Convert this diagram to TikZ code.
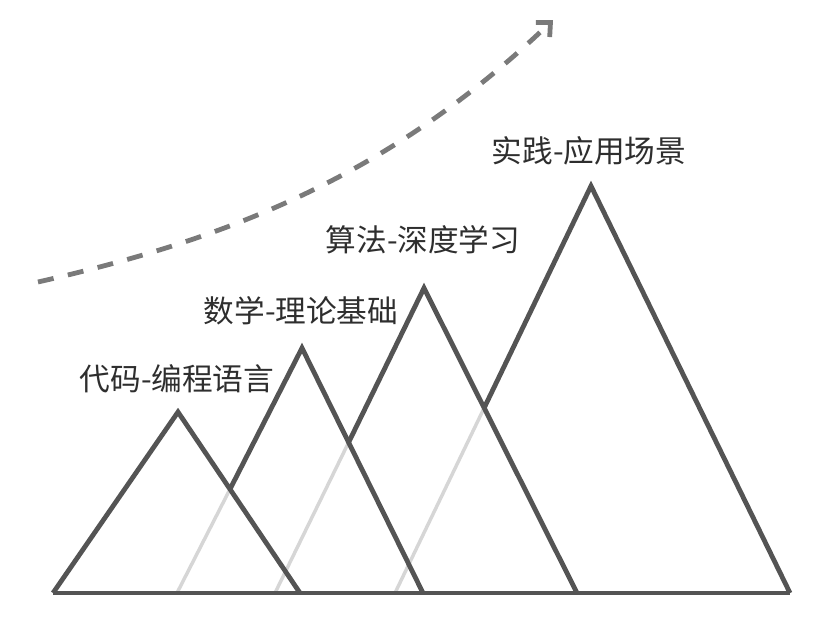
\documentclass[tikz,border=0pt]{standalone}
\usepackage{fontspec}
\usepackage{tikz}
\usetikzlibrary{arrows.meta}
\newfontfamily\cjk{Noto Sans CJK SC}
\definecolor{peak}{RGB}{84,84,84}
\definecolor{hiddenleg}{RGB}{214,214,214}
\definecolor{trendgray}{RGB}{122,122,122}
\definecolor{inkgray}{RGB}{46,46,46}

\begin{document}
\begin{tikzpicture}[x=0.75pt,y=0.75pt,yscale=-1,xscale=1,
  mountain/.style={draw=peak, line width=3.6pt},
  hiddenline/.style={draw=hiddenleg, line width=2.6pt},
  trend/.style={draw=trendgray, line width=3.6pt, dash pattern={on 12pt off 11pt},
    -{Straight Barb[length=8pt,width=15pt,line width=3.6pt]}},
  lbl/.style={inner sep=0.75pt, text=inkgray, font=\cjk\fontsize{23}{26}\selectfont}]
\useasboundingbox (0,0) rectangle (828,622);

%Corners of the four peaks
\foreach \n/\lx/\ax/\ay/\rx in {1/53/178/412/300, 2/177/302/348/423, 3/275/424/288/577, 4/395/591/186/790}{
  \coordinate (L\n) at (\lx,593);
  \coordinate (A\n) at (\ax,\ay);
  \coordinate (R\n) at (\rx,593);
}
\coordinate (X2) at (intersection of L2--A2 and A1--R1);
\coordinate (X3) at (intersection of L3--A3 and A2--R2);
\coordinate (X4) at (intersection of L4--A4 and A3--R3);

%Curve Lines
\coordinate (trendstart) at (38,282);
\coordinate (trendend) at (553,20);
\draw [trend] (trendstart) .. controls (218,241) and (385,181) .. (trendend);

%Hidden legs
\foreach \n in {2,3,4}
  \draw [hiddenline] (L\n) -- (X\n);

%Straight Lines
\draw [mountain] (L1) -- (A1) -- (R1);
\foreach \n in {2,3,4}
  \draw [mountain] (X\n) -- (A\n) -- (R\n);
\draw [mountain] (L1) -- (R4);

% Text Node
\node [lbl] (code) at (177,379) {代码-编程语言};
% Text Node
\node [lbl] (math) at (301,311) {数学-理论基础};
% Text Node
\node [lbl] (algo) at (423,240) {算法-深度学习};
% Text Node
\node [lbl] (apply) at (589,151) {实践-应用场景};

\end{tikzpicture}
\end{document}
